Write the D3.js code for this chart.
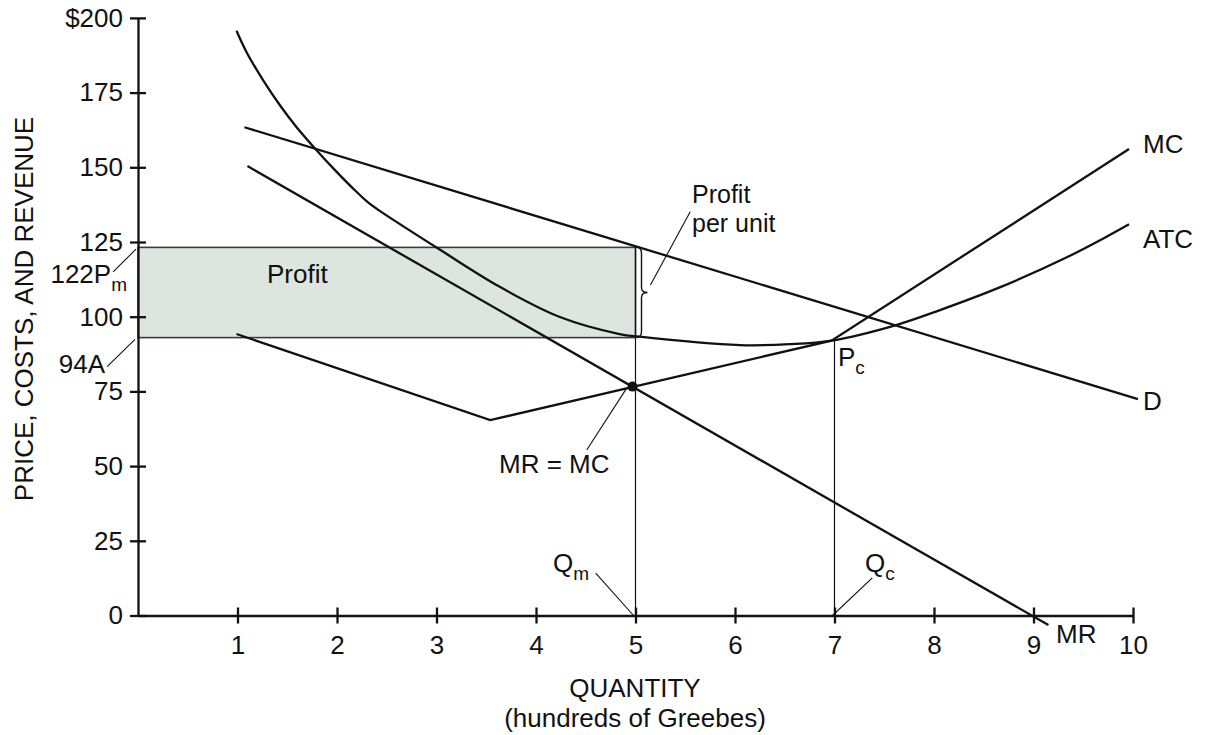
<!DOCTYPE html>
<html>
<head>
<meta charset="utf-8">
<script src="https://cdn.jsdelivr.net/npm/d3@7"></script>
<style>
  body { margin: 0; background: #fff; }
  svg text { font-family: "Liberation Sans", Arial, Helvetica, sans-serif; fill: #111; }
</style>
</head>
<body>
<div id="chart-container"></div>
<script>
// quantity (hundreds) / price ($)
var quantityTicks = [1, 2, 3, 4, 5, 6, 7, 8, 9, 10];
var priceTicks = [0, 25, 50, 75, 100, 125, 150, 175, 200];
var priceTickLabels = ["0", "25", "50", "75", "100", "125", "150", "175", "$200"];

var demand = [[1.07, 163.4], [10.05, 72.4]];
var marginalRevenue = [[1.10, 150.4], [9.15, -3.2]];
var marginalCost = [[0.99, 94.2], [3.54, 65.4], [6.97, 92.0], [9.96, 156.1]];
var averageTotalCost = [
  [0.99, 195.7], [1.09, 188.6], [1.26, 179.0], [1.43, 170.6], [1.59, 163.6],
  [1.79, 155.9], [1.97, 149.4], [2.15, 143.3], [2.30, 138.6], [2.43, 135.4],
  [3.04, 122.3], [3.64, 109.9], [4.24, 99.9], [4.84, 94.2], [5.04, 93.3],
  [6.05, 90.5], [6.55, 90.8], [6.97, 92.0], [7.62, 97.2], [8.06, 102.2],
  [8.66, 109.8], [9.33, 119.8], [9.77, 127.4], [9.96, 130.9]
];

var qMonopoly = 5, qCompetitive = 7;
var priceMonopoly = 123.2, avgCostMonopoly = 93.0;
var mrEqualsMc = [4.97, 76.6];
var priceCompetitive = [6.97, 92.0];

var width = 1210, height = 735;

var x = d3.scaleLinear().domain([0, 10]).range([138, 1133]);
var y = d3.scaleLinear().domain([0, 200]).range([615.5, 17.9]);

var svg = d3.select("#chart-container")
  .append("svg")
  .attr("width", width)
  .attr("height", height);

// profit rectangle
svg.append("rect")
  .attr("x", x(0))
  .attr("y", y(priceMonopoly))
  .attr("width", x(qMonopoly) - x(0))
  .attr("height", y(avgCostMonopoly) - y(priceMonopoly))
  .attr("fill", "#dce5de")
  .attr("stroke", "#3c3c3c")
  .attr("stroke-width", 1.6);

// vertical drop lines
svg.append("line")
  .attr("x1", x(qMonopoly)).attr("x2", x(qMonopoly))
  .attr("y1", y(priceMonopoly)).attr("y2", y(0))
  .attr("stroke", "#111").attr("stroke-width", 1.2);
svg.append("line")
  .attr("x1", x(qCompetitive)).attr("x2", x(qCompetitive))
  .attr("y1", y(priceCompetitive[1])).attr("y2", y(0))
  .attr("stroke", "#111").attr("stroke-width", 1.2);

// axes
var yAxis = d3.axisLeft(y)
  .tickValues(priceTicks)
  .tickFormat(function(d, i) { return priceTickLabels[i]; })
  .tickSizeInner(8)
  .tickSizeOuter(0)
  .tickPadding(7);

var yg = svg.append("g")
  .attr("transform", "translate(" + x(0) + ",0)")
  .call(yAxis);
yg.selectAll(".tick line").attr("x1", 8).attr("x2", -8);

var xAxis = d3.axisBottom(x)
  .tickValues(quantityTicks)
  .tickSizeInner(8)
  .tickSizeOuter(0);

var xg = svg.append("g")
  .attr("transform", "translate(0," + y(0) + ")")
  .call(xAxis);
xg.selectAll(".tick line").attr("y1", -8).attr("y2", 8);
xg.selectAll(".tick text").attr("y", 38).attr("dy", 0);

svg.selectAll(".domain").attr("stroke", "#111").attr("stroke-width", 2.3);
svg.selectAll(".tick line").attr("stroke", "#111").attr("stroke-width", 2.3);
svg.selectAll(".tick text")
  .attr("font-size", 26)
  .attr("font-family", "Liberation Sans, Arial, sans-serif")
  .attr("fill", "#111");

// curves
var straight = d3.line()
  .x(function(d) { return x(d[0]); })
  .y(function(d) { return y(d[1]); });

var smooth = d3.line()
  .x(function(d) { return x(d[0]); })
  .y(function(d) { return y(d[1]); })
  .curve(d3.curveCatmullRom.alpha(0.5));

[demand, marginalRevenue, marginalCost].forEach(function(series) {
  svg.append("path")
    .attr("d", straight(series))
    .attr("fill", "none")
    .attr("stroke", "#111")
    .attr("stroke-width", 2.3);
});

svg.append("path")
  .attr("d", smooth(averageTotalCost))
  .attr("fill", "none")
  .attr("stroke", "#111")
  .attr("stroke-width", 2.3);

// profit per unit brace
var bx = x(qMonopoly), bTop = y(priceMonopoly), bBot = y(avgCostMonopoly);
var bMid = (bTop + bBot) / 2;
svg.append("path")
  .attr("d", "M" + (bx + 1) + "," + bTop +
    " Q" + (bx + 6) + "," + bTop + " " + (bx + 6) + "," + (bTop + 6) +
    " L" + (bx + 6) + "," + (bMid - 5) +
    " Q" + (bx + 6) + "," + bMid + " " + (bx + 12) + "," + bMid +
    " Q" + (bx + 6) + "," + bMid + " " + (bx + 6) + "," + (bMid + 5) +
    " L" + (bx + 6) + "," + (bBot - 6) +
    " Q" + (bx + 6) + "," + bBot + " " + (bx + 1) + "," + bBot)
  .attr("fill", "none")
  .attr("stroke", "#111")
  .attr("stroke-width", 1.4);

// MR = MC dot
svg.append("circle")
  .attr("cx", x(mrEqualsMc[0]))
  .attr("cy", y(mrEqualsMc[1]))
  .attr("r", 5)
  .attr("fill", "#111");

// leader lines, in data units
var leaders = [
  [[-0.25, 115.0], [-0.02, 122.6]],
  [[-0.31, 83.3], [-0.03, 92.4]],
  [[4.51, 55.4], [4.91, 76.0]],
  [[5.15, 110.6], [5.55, 135.1]],
  [[4.60, 14.2], [4.98, 0]],
  [[7.38, 12.6], [6.98, 0]]
];
leaders.forEach(function(l) {
  svg.append("line")
    .attr("x1", x(l[0][0])).attr("y1", y(l[0][1]))
    .attr("x2", x(l[1][0])).attr("y2", y(l[1][1]))
    .attr("stroke", "#111")
    .attr("stroke-width", 1.1);
});

// labels
function label(px, py, txt, sub, anchor, size) {
  var t = svg.append("text")
    .attr("x", px)
    .attr("y", py)
    .attr("font-size", size || 26)
    .attr("text-anchor", anchor || "start")
    .text(txt);
  if (sub) {
    t.append("tspan")
      .attr("dy", 8)
      .attr("font-size", 19)
      .text(sub);
  }
  return t;
}

label(127, 283, "122P", "m", "end");
label(105, 373, "94A", null, "end");
label(267, 283, "Profit");
label(692, 203, "Profit", null, "start", 25);
label(692, 232, "per unit", null, "start", 25);
label(499, 473, "MR = MC");
label(838, 366, "P", "c");
label(553, 572, "Q", "m");
label(865, 572, "Q", "c");
label(1056, 643, "MR");
label(1143, 153, "MC");
label(1143, 248, "ATC");
label(1143, 410, "D");

label(635, 697, "QUANTITY", null, "middle");
label(635, 727, "(hundreds of Greebes)", null, "middle");

svg.append("text")
  .attr("transform", "translate(33,309) rotate(-90)")
  .attr("text-anchor", "middle")
  .attr("font-size", 26)
  .text("PRICE, COSTS, AND REVENUE");
</script>
</body>
</html>
